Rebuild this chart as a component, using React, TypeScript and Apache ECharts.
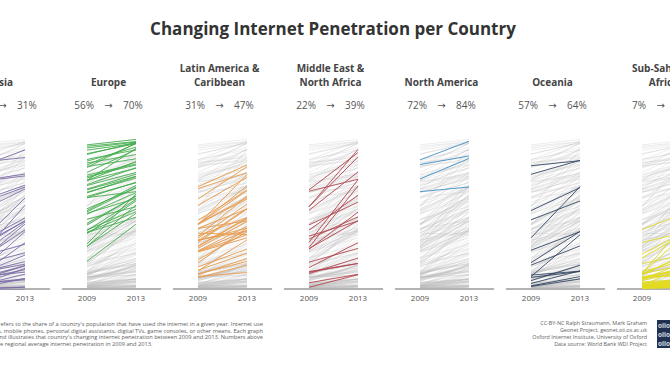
import React, { useEffect, useRef } from 'react';
import * as echarts from 'echarts';

const FONT = '"Open Sans", "DejaVu Sans", sans-serif';

const regionNames = ['Asia', 'Europe', 'Latin America &\nCaribbean', 'Middle East &\nNorth Africa', 'North America', 'Oceania', 'Sub-Saharan\nAfrica'];
const avg2009 = [20, 56, 31, 22, 72, 57, 7];
const avg2013 = [31, 70, 47, 39, 84, 64, 17];
const years = ['2009', '2013'];
const regionColors = ['#7a68a8', '#3fae49', '#ec9a45', '#b4414a', '#3a8fc8', '#2f4260', '#e3dc1e'];

const asia2009 = [78.0, 81.6, 69.4, 54.0, 69.0, 49.0, 55.8, 28.9, 18.2, 27.4, 15.3, 20.1, 15.0, 17.1, 10.1, 2.0, 10.0, 26.6, 20.1, 9.0, 6.9, 5.1, 7.5, 3.1, 8.8, 2.0, 7.2, 24.8, 3.6, 0.5, 6.0, 0.2, 0.2, 0.0];
const asia2013 = [89.7, 84.8, 74.2, 65.8, 73.0, 64.5, 67.0, 45.8, 54.0, 58.7, 41.9, 43.1, 23.4, 38.2, 16.0, 9.6, 17.7, 43.9, 28.9, 37.0, 14.9, 15.1, 10.9, 6.6, 21.9, 13.3, 29.9, 44.1, 5.9, 6.8, 12.5, 1.2, 1.1, 0.0];

const europe2009 = [93.0, 92.1, 89.6, 91.0, 86.8, 87.3, 82.5, 80.0, 78.5, 75.2, 83.6, 70.1, 79.0, 81.3, 70.0, 73.5, 71.6, 72.5, 67.4, 70.0, 66.8, 64.4, 62.4, 64.0, 62.0, 59.8, 58.9, 59.0, 50.6, 48.3, 48.8, 42.4, 49.8, 45.0, 36.6, 38.1, 51.8, 35.6, 37.7, 41.2, 29.0, 27.4, 27.5, 17.9, 36.4];
const europe2013 = [96.5, 95.1, 94.0, 94.8, 94.6, 93.8, 91.5, 93.8, 94.0, 90.0, 89.8, 90.7, 84.0, 86.7, 82.2, 80.6, 81.9, 80.0, 78.2, 77.9, 75.2, 74.1, 71.6, 72.7, 72.6, 68.5, 68.9, 62.8, 66.8, 62.1, 58.5, 59.9, 65.5, 53.1, 49.8, 51.5, 65.2, 56.8, 57.8, 60.1, 61.4, 54.2, 48.8, 41.8, 46.3];

const latam2009 = [41.6, 34.0, 41.8, 39.2, 30.0, 32.7, 26.3, 34.3, 31.4, 24.6, 16.8, 18.9, 39.1, 27.7, 24.3, 44.3, 64.8, 54.0, 42.0, 66.0, 41.5, 14.3, 8.1, 9.3, 9.8, 12.1, 7.3, 11.7, 23.9, 31.6, 24.1, 36.0, 31.0, 42.0, 58.0, 27.4];
const latam2013 = [66.5, 59.9, 58.1, 51.6, 51.7, 54.9, 43.5, 46.0, 39.2, 40.4, 39.5, 36.9, 44.0, 45.9, 37.8, 63.8, 75.0, 72.0, 63.4, 80.0, 73.9, 25.7, 10.6, 19.7, 17.8, 23.1, 15.5, 31.7, 33.0, 37.4, 35.0, 35.2, 52.0, 59.0, 78.9, 45.3];

const mena2009 = [53.0, 53.1, 64.0, 50.8, 63.1, 30.1, 26.8, 38.0, 41.3, 26.0, 34.1, 25.7, 13.8, 11.2, 17.3, 10.8, 1.1, 10.0, 4.0, 32.2];
const mena2013 = [90.0, 85.3, 88.0, 75.5, 70.8, 70.5, 66.5, 60.5, 56.0, 44.2, 43.8, 49.6, 29.9, 16.5, 26.2, 16.5, 9.2, 20.0, 9.5, 46.6];

const namerica2009 = [83.3, 80.3, 71.0, 62.8];
const namerica2013 = [95.3, 85.8, 84.2, 65.8];

const oceania2009 = [74.0, 79.5, 50.6, 33.0, 44.6, 17.0, 8.0, 15.4, 25.0, 5.4, 7.5, 9.0, 3.6, 2.0, 1.6];
const oceania2013 = [83.0, 82.8, 65.4, 66.0, 56.8, 37.1, 35.0, 27.8, 37.0, 15.3, 11.3, 11.5, 11.7, 8.0, 6.5];

const ssa2009 = [38.4, 22.5, 30.0, 10.0, 20.0, 10.0, 16.4, 11.4, 7.6, 5.4, 7.5, 9.8, 9.9, 6.0, 6.2, 6.5, 8.9, 3.7, 6.3, 2.4, 2.7, 1.1, 1.6, 0.5, 0.5, 1.2, 0.7, 4.5, 3.8, 1.8, 1.5, 0.8, 1.8, 1.1, 2.2, 2.6, 2.0, 0.5, 0.3, 0.9, 2.3, 7.6, 2.3, 7.7, 0.9, 3.6, 2.1];
const ssa2013 = [50.4, 39.0, 37.5, 46.5, 38.0, 39.0, 23.0, 19.0, 9.2, 12.3, 13.1, 16.2, 22.7, 19.1, 15.0, 13.9, 24.7, 5.0, 15.4, 4.4, 5.4, 5.4, 2.2, 1.9, 0.9, 1.5, 2.2, 6.6, 6.4, 3.5, 2.3, 1.7, 2.3, 4.4, 4.9, 4.5, 2.6, 4.6, 1.7, 1.6, 3.1, 14.0, 6.2, 8.7, 1.3, 6.5, 16.4];

const values2009 = [asia2009, europe2009, latam2009, mena2009, namerica2009, oceania2009, ssa2009];
const values2013 = [asia2013, europe2013, latam2013, mena2013, namerica2013, oceania2013, ssa2013];

const footLeft = [
  "Internet penetration refers to the share of a country's population that have used the internet in a given year. Internet use",
  'can be via computers, mobile phones, personal digital assistants, digital TVs, game consoles, or other means. Each graph',
  "line represents one country and illustrates that country's changing internet penetration between 2009 and 2013. Numbers above",
];
const footLeftLast = 'e regional average internet penetration in 2009 and 2013.';
const credits = [
  'CC-BY-NC Ralph Straumann, Mark Graham',
  'Geonet Project, geonet.oii.ox.ac.uk',
  'Oxford Internet Institute, University of Oxford',
  'Data source: World Bank WDI Project',
];

// the drawing surface is wider than the window: it starts OFF px to the left
const OFF = 60;
const PANEL_X0 = 0.5;
const PANEL_STEP = 111;
const HALF = 24.5;
const TOP = 134;
const HEIGHT = 155;

function toLines(a: number[], b: number[]) {
  return a.map((v, i) => ({ coords: [[0, v], [1, b[i]]] }));
}

export default function App() {
  const ref = useRef<HTMLDivElement>(null);
  useEffect(() => {
    if (!ref.current) return;
    const chart = echarts.init(ref.current, null, { renderer: 'svg' });
    const all09: number[] = ([] as number[]).concat(...values2009);
    const all13: number[] = ([] as number[]).concat(...values2013);
    const greyData = toLines(all09, all13);

    const grid: any[] = [];
    const xAxis: any[] = [];
    const yAxis: any[] = [];
    const series: any[] = [];
    const graphic: any[] = [];

    regionNames.forEach((name, i) => {
      const c = OFF + PANEL_X0 + PANEL_STEP * i;
      grid.push({ left: c - 2 * HALF, top: TOP, width: 4 * HALF, height: HEIGHT, containLabel: false });
      xAxis.push({
        gridIndex: i, type: 'value', min: -0.5, max: 1.5, interval: 0.5,
        axisLine: { show: true, onZero: false, lineStyle: { color: '#9a9a9a', width: 1.5 } },
        axisTick: { show: false }, splitLine: { show: false },
        axisLabel: {
          formatter: (v: number) => (v === 0 ? years[0] : v === 1 ? years[1] : ''),
          color: '#555', fontSize: 8, margin: 4, fontFamily: FONT,
          showMinLabel: true, showMaxLabel: true,
        },
      });
      yAxis.push({ gridIndex: i, type: 'value', min: 0, max: 100, show: false });
      series.push({
        type: 'lines', coordinateSystem: 'cartesian2d', xAxisIndex: i, yAxisIndex: i,
        silent: true, lineStyle: { color: '#b8b8b8', width: 0.6, opacity: 0.42, curveness: 0 },
        data: greyData,
      });
      series.push({
        type: 'lines', coordinateSystem: 'cartesian2d', xAxisIndex: i, yAxisIndex: i,
        silent: true, lineStyle: { color: regionColors[i], width: 0.9, opacity: 0.95, curveness: 0 },
        data: toLines(values2009[i], values2013[i]),
      });
      const tc = c - 3 + (i === 0 ? 5 : 0);
      graphic.push({
        type: 'text', x: tc, y: 89,
        style: { text: name, fill: '#444', font: `bold 10px ${FONT}`, align: 'center', verticalAlign: 'bottom', lineHeight: 14 },
      });
      graphic.push({
        type: 'text', x: tc, y: 105,
        style: { text: `${avg2009[i]}%    \u2192    ${avg2013[i]}%`, fill: '#555', font: `10px ${FONT}`, align: 'center', verticalAlign: 'middle' },
      });
    });

    graphic.push({
      type: 'text', x: OFF + 333, y: 28,
      style: { text: 'Changing Internet Penetration per Country', fill: '#333', font: `bold 17px ${FONT}`, align: 'center', verticalAlign: 'middle' },
    });
    footLeft.forEach((t, k) => {
      graphic.push({
        type: 'text', x: OFF + 263, y: 324 + k * 6.7,
        style: { text: t, fill: '#5e5e5e', font: `5.7px ${FONT}`, align: 'right', verticalAlign: 'middle' },
      });
    });
    graphic.push({
      type: 'text', x: OFF, y: 344.1,
      style: { text: footLeftLast, fill: '#5e5e5e', font: `5.7px ${FONT}`, align: 'left', verticalAlign: 'middle' },
    });
    credits.forEach((t, k) => {
      graphic.push({
        type: 'text', x: OFF + 647, y: 323 + k * 7,
        style: { text: t, fill: '#5e5e5e', font: `5.4px ${FONT}`, align: 'right', verticalAlign: 'middle' },
      });
    });
    graphic.push({ type: 'rect', shape: { x: OFF + 657, y: 320, width: 20, height: 28 }, style: { fill: '#1f3050' } });
    [0, 1, 2].forEach((k) => {
      graphic.push({
        type: 'text', x: OFF + 658, y: 325 + k * 9,
        style: { text: 'oiio', fill: '#d8dde6', font: `bold 6.5px ${FONT}`, align: 'left', verticalAlign: 'middle' },
      });
    });

    chart.setOption({
      animation: false,
      backgroundColor: '#ffffff',
      grid, xAxis, yAxis, series, graphic,
    });
    return () => chart.dispose();
  }, []);
  return <div ref={ref} style={{ position: 'fixed', left: -OFF, top: 0, width: 670 + 2 * OFF, height: 370 }} />;
}
